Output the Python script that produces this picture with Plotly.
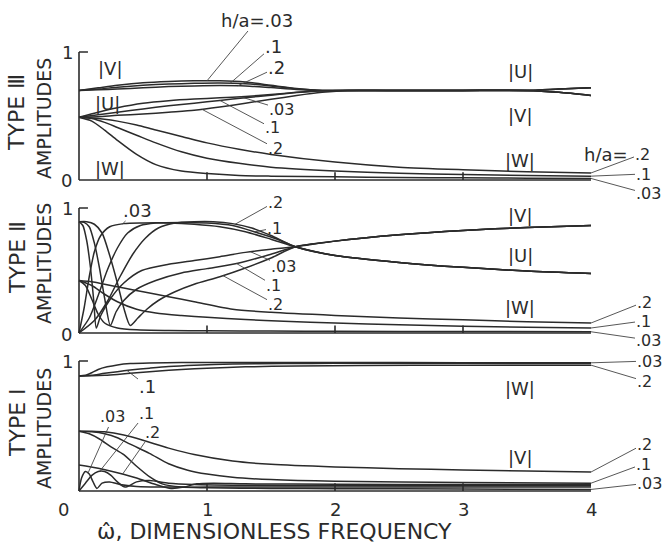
import numpy as np
import plotly.graph_objects as go

# ---------------------------------------------------------------- data
# Type III (top panel): amplitudes vs dimensionless frequency, h/a = .03, .1, .2
FREQ3 = [0, 0.15, 0.3, 0.5, 0.7, 0.9, 1.1, 1.3, 1.5, 1.7, 1.9, 2.1, 2.4, 3.0, 3.5, 3.75, 4.0]
V3_03 = [0.70, 0.72, 0.74, 0.76, 0.77, 0.775, 0.775, 0.765, 0.74, 0.715, 0.70, 0.70, 0.70, 0.70, 0.70, 0.685, 0.66]
V3_1 = [0.70, 0.71, 0.725, 0.74, 0.75, 0.755, 0.757, 0.752, 0.735, 0.712, 0.70, 0.70, 0.70, 0.70, 0.70, 0.685, 0.66]
V3_2 = [0.70, 0.705, 0.71, 0.72, 0.73, 0.735, 0.738, 0.735, 0.722, 0.708, 0.70, 0.70, 0.70, 0.70, 0.70, 0.685, 0.66]
U3_03 = [0.49, 0.53, 0.565, 0.60, 0.62, 0.633, 0.642, 0.653, 0.668, 0.685, 0.697, 0.70, 0.70, 0.70, 0.70, 0.71, 0.72]
U3_1 = [0.49, 0.51, 0.53, 0.555, 0.58, 0.60, 0.622, 0.643, 0.663, 0.683, 0.697, 0.70, 0.70, 0.70, 0.70, 0.71, 0.72]
U3_2 = [0.49, 0.495, 0.505, 0.515, 0.53, 0.545, 0.57, 0.60, 0.63, 0.66, 0.685, 0.70, 0.70, 0.70, 0.70, 0.71, 0.72]
FREQ3_W = [0, 0.1, 0.2, 0.3, 0.45, 0.6, 0.8, 1.0, 1.25, 1.5, 2.0, 2.5, 3.0, 3.5, 4.0]
W3_03 = [0.49, 0.46, 0.39, 0.31, 0.2, 0.12, 0.07, 0.05, 0.035, 0.03, 0.025, 0.02, 0.017, 0.014, 0.012]
W3_1 = [0.49, 0.48, 0.45, 0.41, 0.35, 0.29, 0.22, 0.17, 0.13, 0.10, 0.07, 0.052, 0.042, 0.035, 0.03]
W3_2 = [0.49, 0.485, 0.475, 0.46, 0.43, 0.39, 0.34, 0.29, 0.24, 0.20, 0.14, 0.10, 0.08, 0.065, 0.055]

# Type II (middle panel)
FREQ2_TAIL = [2.0, 2.5, 3.0, 3.5, 4.0]
U2_TAIL = [0.62, 0.565, 0.525, 0.495, 0.475]
V2_TAIL = [0.735, 0.785, 0.82, 0.845, 0.86]
FREQ2_U03 = [0, 0.04, 0.08, 0.12, 0.17, 0.24, 0.35, 0.5, 0.7, 0.9, 1.1, 1.3, 1.5, 1.69]
U2_03 = [0.0, 0.2, 0.45, 0.65, 0.78, 0.85, 0.875, 0.88, 0.88, 0.87, 0.85, 0.81, 0.75, 0.69]
FREQ2_U1 = [0, 0.08, 0.15, 0.22, 0.3, 0.38, 0.48, 0.6, 0.8, 1.0, 1.2, 1.4, 1.55, 1.69]
U2_1 = [0.0, 0.12, 0.3, 0.5, 0.68, 0.8, 0.86, 0.88, 0.885, 0.88, 0.86, 0.8, 0.75, 0.69]
FREQ2_U2 = [0, 0.12, 0.22, 0.32, 0.42, 0.52, 0.62, 0.75, 0.9, 1.05, 1.2, 1.35, 1.5, 1.69]
U2_2 = [0.0, 0.1, 0.25, 0.45, 0.63, 0.76, 0.84, 0.88, 0.89, 0.89, 0.875, 0.84, 0.78, 0.69]
FREQ2_V03 = [0, 0.03, 0.06, 0.09, 0.115, 0.135, 0.17, 0.25, 0.35, 0.49, 0.7, 0.9, 1.1, 1.3, 1.5, 1.69]
V2_03 = [0.89, 0.86, 0.74, 0.52, 0.26, 0.04, 0.14, 0.28, 0.40, 0.50, 0.55, 0.58, 0.61, 0.645, 0.67, 0.69]
FREQ2_V1 = [0, 0.04, 0.08, 0.12, 0.16, 0.2, 0.245, 0.29, 0.35, 0.45, 0.6, 0.8, 1.0, 1.25, 1.5, 1.69]
V2_1 = [0.89, 0.885, 0.85, 0.72, 0.52, 0.28, 0.06, 0.17, 0.26, 0.35, 0.42, 0.48, 0.515, 0.56, 0.63, 0.69]
FREQ2_V2 = [0, 0.06, 0.12, 0.18, 0.24, 0.3, 0.35, 0.4, 0.46, 0.53, 0.62, 0.75, 0.9, 1.1, 1.3, 1.5, 1.69]
V2_2 = [0.89, 0.89, 0.87, 0.8, 0.62, 0.4, 0.2, 0.06, 0.12, 0.19, 0.26, 0.33, 0.39, 0.45, 0.52, 0.6, 0.69]
FREQ2_W03 = [0, 0.05, 0.1, 0.15, 0.2, 0.3, 0.45, 0.7, 1.0, 1.5, 2.0, 3.0, 4.0]
W2_03 = [0.42, 0.38, 0.27, 0.15, 0.08, 0.04, 0.025, 0.02, 0.018, 0.015, 0.013, 0.012, 0.01]
FREQ2_W1 = [0, 0.1, 0.2, 0.3, 0.45, 0.6, 0.8, 1.0, 1.3, 1.6, 2.0, 2.5, 3.0, 3.5, 4.0]
W2_1 = [0.42, 0.38, 0.31, 0.25, 0.19, 0.16, 0.14, 0.125, 0.108, 0.094, 0.08, 0.065, 0.054, 0.046, 0.04]
FREQ2_W2 = [0, 0.1, 0.2, 0.35, 0.5, 0.7, 0.9, 1.2, 1.5, 2.0, 2.5, 3.0, 3.5, 4.0]
W2_2 = [0.42, 0.41, 0.39, 0.36, 0.33, 0.29, 0.25, 0.19, 0.165, 0.14, 0.12, 0.105, 0.09, 0.08]

# Type I (bottom panel)
FREQ1_W03 = [0, 0.05, 0.1, 0.15, 0.22, 0.3, 0.4, 0.55, 0.8, 1.2, 2.0, 3.0, 4.0]
W1_03 = [0.885, 0.89, 0.91, 0.935, 0.955, 0.97, 0.98, 0.985, 0.988, 0.988, 0.988, 0.987, 0.986]
FREQ1_W1 = [0, 0.05, 0.1, 0.2, 0.3, 0.4, 0.55, 0.7, 0.9, 1.2, 1.6, 2.0, 3.0, 4.0]
W1_1 = [0.885, 0.886, 0.89, 0.905, 0.918, 0.93, 0.945, 0.958, 0.968, 0.976, 0.98, 0.982, 0.982, 0.98]
FREQ1_W2 = [0, 0.1, 0.2, 0.3, 0.45, 0.6, 0.8, 1.0, 1.3, 1.7, 2.2, 3.0, 4.0]
W1_2 = [0.885, 0.886, 0.89, 0.897, 0.91, 0.922, 0.935, 0.945, 0.955, 0.962, 0.966, 0.968, 0.968]
FREQ1_V2 = [0, 0.1, 0.2, 0.35, 0.5, 0.7, 0.9, 1.2, 1.5, 2.0, 2.5, 3.0, 3.5, 4.0]
V1_2 = [0.46, 0.46, 0.455, 0.43, 0.39, 0.33, 0.28, 0.23, 0.205, 0.185, 0.172, 0.162, 0.153, 0.146]
FREQ1_V1 = [0, 0.1, 0.2, 0.3, 0.4, 0.55, 0.7, 0.85, 1.0, 1.2, 1.5, 2.0, 3.0, 4.0]
V1_1 = [0.46, 0.455, 0.44, 0.41, 0.36, 0.29, 0.21, 0.16, 0.13, 0.105, 0.088, 0.075, 0.065, 0.06]
FREQ1_V03 = [0, 0.08, 0.16, 0.25, 0.35, 0.45, 0.55, 0.65, 0.8, 1.0, 1.5, 2.0, 3.0, 4.0]
V1_03 = [0.46, 0.44, 0.40, 0.34, 0.28, 0.19, 0.11, 0.055, 0.03, 0.025, 0.02, 0.018, 0.015, 0.012]
FREQ1_U03 = [0, 0.02, 0.05, 0.08, 0.11, 0.14, 0.18, 0.24, 0.32, 0.45, 0.7, 1.0, 2.0, 3.0, 4.0]
U1_03 = [0.0, 0.1, 0.15, 0.13, 0.07, 0.02, 0.06, 0.07, 0.05, 0.035, 0.03, 0.03, 0.03, 0.03, 0.03]
FREQ1_U1 = [0, 0.05, 0.1, 0.15, 0.2, 0.25, 0.3, 0.36, 0.45, 0.55, 0.7, 0.9, 1.2, 2.0, 3.0, 4.0]
U1_1 = [0.0, 0.06, 0.12, 0.15, 0.15, 0.12, 0.07, 0.03, 0.07, 0.08, 0.06, 0.05, 0.045, 0.042, 0.04, 0.04]
FREQ1_U2 = [0, 0.15, 0.3, 0.45, 0.6, 0.72, 0.82, 0.92, 1.05, 1.3, 2.0, 3.0, 4.0]
U1_2 = [0.2, 0.175, 0.14, 0.1, 0.05, 0.02, 0.03, 0.055, 0.06, 0.055, 0.052, 0.05, 0.05]

X_TICKS = [0, 1, 2, 3, 4]
X_TICK_TEXT = ["0", "1", "2", "3", "4"]

# ---------------------------------------------------------------- layout geometry
W, H = 663, 545
X0, XU = 79, 128                 # pixel of zero frequency, pixels per unit
XR = (-0.06, 4.06)
YR = (-0.04, 1.04)
# panel name -> (x axis, y axis, pixel of amplitude 0, pixel of amplitude 1)
PANEL = {"III": ("x", "y", 180, 52), "II": ("x2", "y2", 333, 208), "I": ("x3", "y3", 491, 361)}

INK = "#2b2b2b"
FONT = "DejaVu Sans"


def px(f):
    return X0 + XU * f


def py(panel, a):
    _, _, p0, p1 = PANEL[panel]
    return p0 - (p0 - p1) * a


fig = go.Figure()

curves = {
    "III": [(FREQ3, V3_03), (FREQ3, V3_1), (FREQ3, V3_2),
            (FREQ3, U3_03), (FREQ3, U3_1), (FREQ3, U3_2),
            (FREQ3_W, W3_03), (FREQ3_W, W3_1), (FREQ3_W, W3_2)],
    "II": [(FREQ2_U03 + FREQ2_TAIL, U2_03 + U2_TAIL), (FREQ2_U1 + FREQ2_TAIL, U2_1 + U2_TAIL),
           (FREQ2_U2 + FREQ2_TAIL, U2_2 + U2_TAIL),
           (FREQ2_V03 + FREQ2_TAIL, V2_03 + V2_TAIL), (FREQ2_V1 + FREQ2_TAIL, V2_1 + V2_TAIL),
           (FREQ2_V2 + FREQ2_TAIL, V2_2 + V2_TAIL),
           (FREQ2_W03, W2_03), (FREQ2_W1, W2_1), (FREQ2_W2, W2_2)],
    "I": [(FREQ1_W03, W1_03), (FREQ1_W1, W1_1), (FREQ1_W2, W1_2),
          (FREQ1_V03, V1_03), (FREQ1_V1, V1_1), (FREQ1_V2, V1_2),
          (FREQ1_U03, U1_03), (FREQ1_U1, U1_1), (FREQ1_U2, U1_2)],
}

for name, lst in curves.items():
    xa, ya, _, _ = PANEL[name]
    for fx, fy in lst:
        fig.add_trace(go.Scatter(
            x=fx, y=fy, mode="lines", xaxis=xa, yaxis=ya,
            line=dict(color=INK, width=1.5, shape="spline", smoothing=0.7),
            hoverinfo="skip", showlegend=False))

# axis frames drawn as plain strokes: left spine with a short cap at 1, base line, ticks
shapes = []
for name, (xa, ya, _, _) in PANEL.items():
    common = dict(type="line", xref=xa, yref=ya, line=dict(color=INK, width=1.6))
    shapes.append(dict(x0=0, y0=0, x1=0, y1=1, **common))
    shapes.append(dict(x0=0, y0=1, x1=0.07, y1=1, **common))
    shapes.append(dict(x0=0, y0=0, x1=4, y1=0, **common))
    for k in X_TICKS[1:-1]:
        shapes.append(dict(x0=k, y0=0, x1=k, y1=0.06, **common))

annotations = []


def text(tx, ty, s, size=18, angle=0):
    annotations.append(dict(
        x=tx / W, y=1 - ty / H, xref="paper", yref="paper", text=s, showarrow=False,
        xanchor="center", yanchor="middle", textangle=angle,
        font=dict(family=FONT, size=size, color=INK)))


def leader(panel, fx, fy, f, s, tx, ty, size=18):
    """Label at pixel (tx, ty) with a thin leader to curve (fx, fy) at frequency f."""
    xa, ya, _, _ = PANEL[panel]
    a = float(np.interp(f, fx, fy))
    annotations.append(dict(
        x=f, y=a, xref=xa, yref=ya, text=s, showarrow=True, arrowhead=0,
        arrowwidth=0.9, arrowcolor="#444", standoff=0, startstandoff=0,
        ax=tx - px(f), ay=ty - py(panel, a), borderpad=0,
        font=dict(family=FONT, size=size, color=INK)))


SMALL = 16   # stacked curve labels

# Type III labels
leader("III", FREQ3, V3_03, 1.0, "h/a=.03", 257, 20)
leader("III", FREQ3, V3_1, 1.18, ".1", 273, 46)
leader("III", FREQ3, V3_2, 1.24, ".2", 276, 68)
leader("III", FREQ3, U3_03, 1.26, ".03", 281, 109, SMALL)
leader("III", FREQ3, U3_1, 1.10, ".1", 272, 128, SMALL)
leader("III", FREQ3, U3_2, 0.96, ".2", 275, 148, SMALL)
text(606, 154, "h/a=")
leader("III", FREQ3_W, W3_2, 4.0, ".2", 642, 154, SMALL)
leader("III", FREQ3_W, W3_1, 4.0, ".1", 643, 174, SMALL)
leader("III", FREQ3_W, W3_03, 4.0, ".03", 648, 194, SMALL)
text(110, 68, "|V|")
text(107, 103, "|U|")
text(110, 168, "|W|")
text(520, 71, "|U|")
text(520, 115, "|V|")
text(520, 160, "|W|")

# Type II labels
leader("II", FREQ2_U03, U2_03, 0.34, ".03", 137, 210)
leader("II", FREQ2_U2, U2_2, 1.22, ".2", 275, 202, SMALL)
leader("II", FREQ2_U1, U2_1, 1.37, ".1", 274, 228, SMALL)
leader("II", FREQ2_V03, V2_03, 1.34, ".03", 283, 266, SMALL)
leader("II", FREQ2_V1, V2_1, 1.23, ".1", 273, 285, SMALL)
leader("II", FREQ2_V2, V2_2, 1.125, ".2", 275, 304, SMALL)
leader("II", FREQ2_W2, W2_2, 4.0, ".2", 644, 302, SMALL)
leader("II", FREQ2_W1, W2_1, 4.0, ".1", 643, 321, SMALL)
leader("II", FREQ2_W03, W2_03, 4.0, ".03", 648, 340, SMALL)
text(520, 215, "|V|")
text(520, 255, "|U|")
text(520, 307, "|W|")

# Type I labels
leader("I", FREQ1_W1, W1_1, 0.375, ".1", 147, 386)
leader("I", FREQ1_U03, U1_03, 0.07, ".03", 113, 417, SMALL)
leader("I", FREQ1_U1, U1_1, 0.16, ".1", 146, 413, SMALL)
leader("I", FREQ1_U2, U1_2, 0.34, ".2", 152, 432, SMALL)
leader("I", FREQ1_W03, W1_03, 4.0, ".03", 649, 361, SMALL)
leader("I", FREQ1_W2, W1_2, 4.0, ".2", 644, 381, SMALL)
leader("I", FREQ1_V2, V1_2, 4.0, ".2", 644, 444, SMALL)
leader("I", FREQ1_V1, V1_1, 4.0, ".1", 643, 464, SMALL)
leader("I", FREQ1_V03, V1_03, 4.0, ".03", 649, 483, SMALL)
text(520, 388, "|W|")
text(520, 457, "|V|")

# y tick labels and panel titles
for name, title, tc in (("III", "TYPE Ⅲ", 113), ("II", "TYPE Ⅱ", 258), ("I", "TYPE Ⅰ", 423)):
    text(67, py(name, 1), "1")
    if name != "I":
        text(66, py(name, 0) + 1, "0")
    text(17, tc, title, size=22, angle=-90)
    text(44, tc + 6, "AMPLITUDES", size=19, angle=-90)

# x tick labels and title
for k, lab in zip(X_TICKS, X_TICK_TEXT):
    text(px(k) - (16 if k == 0 else 0), 509, lab)
text(274, 531, "ω̂, DIMENSIONLESS FREQUENCY", size=22)

# axes: hidden, used only for scaling
xdom = [(X0 + XU * XR[0]) / W, (X0 + XU * XR[1]) / W]
layout_axes = {}
for name, (xa, ya, p0, p1) in PANEL.items():
    u = p0 - p1
    top = p1 + YR[0] * u
    bot = p0 - YR[0] * u
    ydom = [1 - bot / H, 1 - top / H]
    xkey = "xaxis" + xa[1:]
    ykey = "yaxis" + ya[1:]
    layout_axes[xkey] = dict(domain=xdom, range=list(XR), anchor=ya, visible=False, fixedrange=True)
    layout_axes[ykey] = dict(domain=ydom, range=list(YR), anchor=xa, visible=False, fixedrange=True)

fig.update_layout(
    width=W, height=H, autosize=False,
    margin=dict(l=0, r=0, t=0, b=0),
    paper_bgcolor="white", plot_bgcolor="white",
    shapes=shapes, annotations=annotations, showlegend=False,
    **layout_axes)

fig.write_html("out.html", config={"displayModeBar": False})
